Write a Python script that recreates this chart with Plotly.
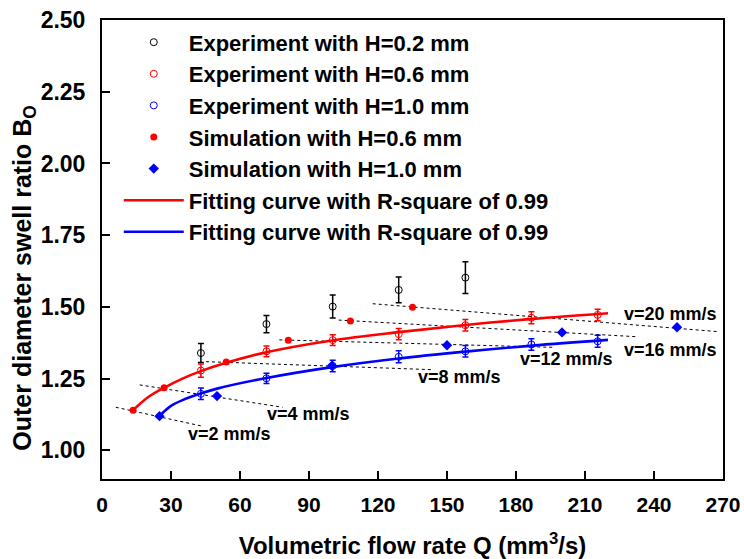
import plotly.graph_objects as go

# ---------------- data ----------------
exp_q_02 = [43.0, 71.5, 100.3, 129.0, 158.0]
exp_b_02 = [1.339, 1.440, 1.501, 1.559, 1.602]
exp_e_02 = [0.033, 0.030, 0.040, 0.045, 0.055]

exp_q = [43.0, 71.5, 100.3, 129.0, 158.0, 186.7, 215.5]
exp_b_06 = [1.278, 1.345, 1.384, 1.405, 1.436, 1.462, 1.472]
exp_e_06 = [0.023, 0.019, 0.019, 0.020, 0.020, 0.021, 0.020]
exp_b_10 = [1.197, 1.251, 1.294, 1.326, 1.345, 1.369, 1.380]
exp_e_10 = [0.020, 0.018, 0.020, 0.021, 0.020, 0.020, 0.021]

sim_q_06 = [13.5, 27.0, 54.0, 81.0, 108.0, 135.0]
sim_b_06 = [1.140, 1.218, 1.308, 1.384, 1.451, 1.499]
sim_q_10 = [25.0, 50.0, 100.0, 150.0, 200.0, 250.0]
sim_b_10 = [1.119, 1.189, 1.295, 1.366, 1.411, 1.429]

fit_q_06 = [13.5, 20, 27, 35, 43, 54, 71.5, 100, 129, 158, 187, 220]
fit_b_06 = [1.140, 1.185, 1.218, 1.250, 1.276, 1.305, 1.342, 1.383, 1.412, 1.437, 1.458, 1.478]
fit_q_10 = [25, 27, 30, 35, 43, 50, 71.5, 100, 129, 158, 187, 220]
fit_b_10 = [1.119, 1.135, 1.155, 1.175, 1.198, 1.215, 1.252, 1.290, 1.320, 1.344, 1.365, 1.385]

# iso-velocity dotted guide lines: [start, end]
v_labels = ["v=2 mm/s", "v=4 mm/s", "v=8 mm/s", "v=12 mm/s", "v=16 mm/s", "v=20 mm/s"]
v_line_q = [[6.0, 43.7], [16.4, 78.5], [45.2, 143.9], [77.1, 196.0], [102.9, 232.4], [117.7, 267.3]]
v_line_b = [[1.150, 1.084], [1.228, 1.150], [1.309, 1.281], [1.385, 1.359], [1.454, 1.396], [1.511, 1.414]]
v_label_q = [55.3, 89.8, 155.5, 202.0, 247.3, 247.3]
v_label_b = [1.058, 1.125, 1.255, 1.318, 1.351, 1.475]

x_range = [0, 270]
y_range = [0.9, 2.5]
x_ticks = [0, 30, 60, 90, 120, 150, 180, 210, 240, 270]
y_ticks = [1.00, 1.25, 1.50, 1.75, 2.00, 2.25, 2.50]

FONT = "Liberation Sans"
RED = "#ff0000"
BLUE = "#0000ff"
FRAME = "#000000"

FIG_W, FIG_H = 744, 559
M_L, M_R, M_T, M_B = 102, 21, 20, 80
TICK_PX = 8

fig = go.Figure()

for qs, bs in zip(v_line_q, v_line_b):
    fig.add_trace(go.Scatter(x=qs, y=bs, mode="lines", showlegend=False, hoverinfo="skip",
                             line=dict(color="black", width=1, dash="dot")))

fit_red = go.Scatter(x=fit_q_06, y=fit_b_06, mode="lines", line=dict(color=RED, width=2.6, shape="spline"),
                     name="Fitting curve with R-square of 0.99")
fit_blue = go.Scatter(x=fit_q_10, y=fit_b_10, mode="lines", line=dict(color=BLUE, width=2.6, shape="spline"),
                      name="Fitting curve with R-square of 0.99")

def err(arr, color):
    return dict(type="data", array=arr, visible=True, color=color, thickness=1.5, width=3)

exp02 = go.Scatter(x=exp_q_02, y=exp_b_02, mode="markers", name="Experiment with H=0.2 mm",
                   marker=dict(symbol="circle-open", size=7, color="black", line=dict(width=1)),
                   error_y=err(exp_e_02, "black"))
exp06 = go.Scatter(x=exp_q, y=exp_b_06, mode="markers", name="Experiment with H=0.6 mm",
                   marker=dict(symbol="circle-open", size=7, color=RED, line=dict(width=1)),
                   error_y=err(exp_e_06, RED))
exp10 = go.Scatter(x=exp_q, y=exp_b_10, mode="markers", name="Experiment with H=1.0 mm",
                   marker=dict(symbol="circle-open", size=7, color=BLUE, line=dict(width=1)),
                   error_y=err(exp_e_10, BLUE))
sim06 = go.Scatter(x=sim_q_06, y=sim_b_06, mode="markers", name="Simulation with H=0.6 mm",
                   marker=dict(symbol="circle", size=7, color=RED))
sim10 = go.Scatter(x=sim_q_10, y=sim_b_10, mode="markers", name="Simulation with H=1.0 mm",
                   marker=dict(symbol="diamond", size=8, color=BLUE))

for tr in [exp02, exp06, exp10, sim06, sim10, fit_red, fit_blue]:
    fig.add_trace(tr)

for txt, q, b in zip(v_labels, v_label_q, v_label_b):
    fig.add_annotation(x=q, y=b, text=txt, showarrow=False, xanchor="center", yanchor="middle",
                       font=dict(family=FONT, size=18, color="black", weight="bold"))

# y-axis title (placed as in the reference, slightly below the plot centre)
fig.add_annotation(xref="paper", yref="paper", x=-0.126, y=0.438, xanchor="center", yanchor="middle",
                   text="Outer diameter swell ratio B<sub>O</sub>", textangle=-90, showarrow=False,
                   font=dict(family=FONT, size=25, color="black", weight="bold"))

axis_common = dict(showline=True, linecolor=FRAME, linewidth=2, mirror=True,
                   ticks="inside", ticklen=TICK_PX, tickwidth=2, tickcolor=FRAME,
                   showgrid=False, zeroline=False, automargin=False, ticklabeloverflow="allow")

fig.update_layout(
    template="none",
    width=FIG_W, height=FIG_H,
    margin=dict(l=M_L, r=M_R, t=M_T, b=M_B, pad=0),
    paper_bgcolor="white", plot_bgcolor="white",
    font=dict(family=FONT, color="black", weight="bold"),
    showlegend=True,
    legend=dict(x=0.027, y=0.997, xanchor="left", yanchor="top", bgcolor="rgba(0,0,0,0)",
                borderwidth=0,
                font=dict(family=FONT, size=22, color="black", weight="bold"),
                itemwidth=60, tracegroupgap=0, traceorder="normal"),
    xaxis=dict(range=x_range, tickvals=x_ticks, ticktext=[str(v) for v in x_ticks],
               tickfont=dict(family=FONT, size=21, color="black", weight="bold"), ticklabelstandoff=6,
               title=dict(text="Volumetric flow rate Q (mm<sup>3</sup>/s)", standoff=29,
                          font=dict(family=FONT, size=24, color="black", weight="bold")),
               **axis_common),
    yaxis=dict(range=y_range, tickvals=y_ticks, ticktext=[f"{v:.2f}" for v in y_ticks],
               tickfont=dict(family=FONT, size=23, color="black", weight="bold"), ticklabelstandoff=10,
               **axis_common),
)

# remove the browser's default 8 px page margin so the figure sits at the window origin
fig.write_html("out.html", config={"displayModeBar": False},
               post_script="document.body.style.margin='0px';")
